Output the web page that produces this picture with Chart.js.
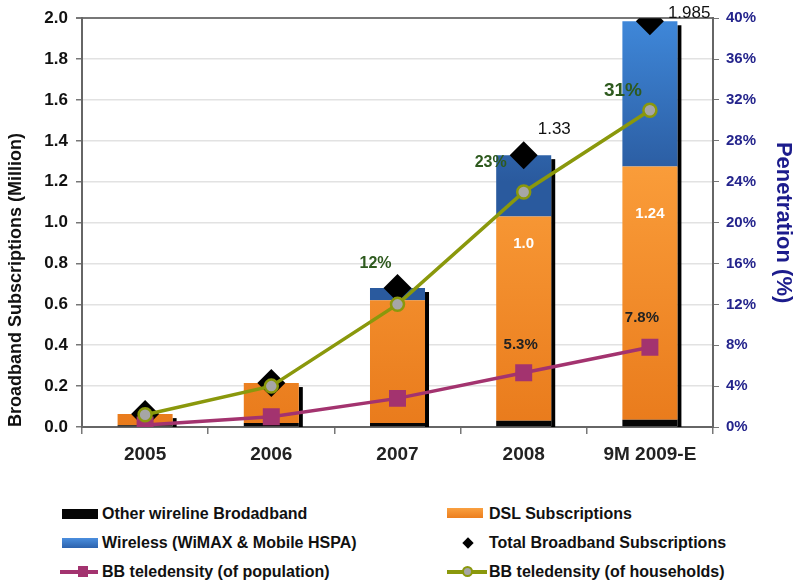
<!DOCTYPE html>
<html>
<head>
<meta charset="utf-8">
<script src="https://cdn.jsdelivr.net/npm/chart.js@4.4.1/dist/chart.umd.min.js"></script>
<style>
  html, body { margin: 0; padding: 0; background: #fff; }
  #wrap { position: relative; width: 799px; height: 582px; overflow: hidden; font-family: "Liberation Sans", Arial, sans-serif; }
  #chart { position: absolute; left: 0; top: 0; }
  .lg { position: absolute; font-weight: bold; font-size: 16px; color: #111; line-height: 18px; white-space: nowrap; }
  .sw { position: absolute; }
</style>
</head>
<body>
<div id="wrap">
  <canvas id="chart" width="799" height="480"></canvas>

  <div class="sw" style="left:62px;top:509px;width:36px;height:10px;background:#050505"></div>
  <div class="lg" style="left:102px;top:505px">Other wireline Brodadband</div>

  <div class="sw" style="left:62px;top:538px;width:36px;height:10px;background:linear-gradient(#4a8ede,#2c62ad)"></div>
  <div class="lg" style="left:102px;top:534px">Wireless (WiMAX &amp; Mobile HSPA)</div>

  <div class="sw" style="left:60px;top:570px;width:38px;height:3.5px;background:#a3336f"></div>
  <div class="sw" style="left:78px;top:566px;width:10px;height:11px;background:#a3336f"></div>
  <div class="lg" style="left:102px;top:563px">BB teledensity (of population)</div>

  <div class="sw" style="left:447px;top:508px;width:36px;height:10px;background:linear-gradient(#f9a040,#ec7e1e)"></div>
  <div class="lg" style="left:489px;top:505px">DSL Subscriptions</div>

  <div class="sw" style="left:464px;top:539px;width:8px;height:8px;background:#000;transform:rotate(45deg)"></div>
  <div class="lg" style="left:489px;top:534px">Total Broadband Subscriptions</div>

  <div class="sw" style="left:447px;top:570px;width:40px;height:3.5px;background:#8a980c"></div>
  <div class="sw" style="left:462px;top:566px;width:7px;height:7px;border-radius:50%;background:#a6a6a6;border:2px solid #8a980c"></div>
  <div class="lg" style="left:489px;top:563px">BB teledensity (of households)</div>
</div>

<script>
// Broadband subscriptions (million) by year
const categories = ['2005', '2006', '2007', '2008', '9M 2009-E'];
const otherWireline = [0.008, 0.02, 0.02, 0.03, 0.035];
const dslSubs = [0.055, 0.195, 0.60, 1.0, 1.24];
const wirelessSubs = [0, 0, 0.06, 0.30, 0.71];
const totalSubs = [0.063, 0.215, 0.68, 1.33, 1.985];

// Broadband teledensity (%)
const popDensity = [0.2, 1.0, 2.8, 5.3, 7.8];
const hhDensity = [1.2, 4.0, 12, 23, 31];

// Axis tick labels
const leftTicks = ['0.0', '0.2', '0.4', '0.6', '0.8', '1.0', '1.2', '1.4', '1.6', '1.8', '2.0'];
const rightTicks = ['0%', '4%', '8%', '12%', '16%', '20%', '24%', '28%', '32%', '36%', '40%'];

// Value labels shown beside marks
const totalLabels = [null, null, null, '1.33', '1.985'];
const dslLabels = [null, null, null, '1.0', '1.24'];
const hhLabels = [null, null, '12%', '23%', '31%'];
const popLabels = [null, null, null, '5.3%', '7.8%'];

const FONT = '"Liberation Sans", Arial, sans-serif';

// label styling: dataset index -> how to place its texts
const labelStyles = [
  { ds: 1, texts: dslLabels, font: 'bold 15px ' + FONT, color: '#ffffff', align: 'center',
    anchor: 'top', offsets: [null, null, null, [0, 27], [0, 47]] },
  { ds: 3, texts: totalLabels, font: '17px ' + FONT, color: '#111111', align: 'left',
    anchor: 'point', offsets: [null, null, null, [14, -26], [18, -8]] },
  { ds: 4, texts: hhLabels, font: 'bold 16px ' + FONT, color: '#2e5a1e', align: 'center',
    anchor: 'point', offsets: [null, null, [-22, -41], [-33, -29], [-27, -19]], big: [null, null, null, null, 'bold 19px ' + FONT] },
  { ds: 5, texts: popLabels, font: 'bold 15px ' + FONT, color: '#222222', align: 'center',
    anchor: 'point', offsets: [null, null, null, [-3, -28], [-8, -29]] }
];

// dark drop edge on the right side of each stacked column
const columnShadow = {
  id: 'columnShadow',
  beforeDatasetsDraw(chart) {
    const ctx = chart.ctx;
    const y = chart.scales.y;
    const base = y.getPixelForValue(0);
    ctx.save();
    ctx.fillStyle = '#000';
    categories.forEach((c, i) => {
      let top = Infinity, right = null;
      [0, 1, 2].forEach(d => {
        const el = chart.getDatasetMeta(d).data[i];
        if (!el) return;
        if (chart.data.datasets[d].data[i] > 0) top = Math.min(top, el.y);
        right = el.x + el.width / 2;
      });
      if (top < Infinity && right !== null) {
        ctx.fillRect(right, top + 4, 4, base - top - 4);
      }
    });
    ctx.restore();
  }
};

// draws the value texts next to their marks
const valueLabels = {
  id: 'valueLabels',
  afterDatasetsDraw(chart) {
    const ctx = chart.ctx;
    ctx.save();
    ctx.textBaseline = 'middle';
    labelStyles.forEach(st => {
      const meta = chart.getDatasetMeta(st.ds);
      st.texts.forEach((t, i) => {
        if (!t) return;
        const el = meta.data[i];
        const off = st.offsets[i] || [0, 0];
        const ay = st.anchor === 'top' ? Math.min(el.y, el.base) : el.y;
        ctx.font = (st.big && st.big[i]) || st.font;
        ctx.fillStyle = st.color;
        ctx.textAlign = st.align;
        ctx.fillText(t, el.x + off[0], ay + off[1]);
      });
    });
    ctx.restore();
  }
};

function vGrad(chart, v0, c0, v1, c1) {
  const ca = chart.chartArea;
  if (!ca) return c0;
  const y = chart.scales.y;
  const g = chart.ctx.createLinearGradient(0, y.getPixelForValue(v0), 0, y.getPixelForValue(v1));
  g.addColorStop(0, c0);
  g.addColorStop(1, c1);
  return g;
}

const barCommon = { type: 'bar', yAxisID: 'y', stack: 'subs', order: 4, borderWidth: 0,
  categoryPercentage: 1, barPercentage: 0.436 };

new Chart(document.getElementById('chart'), {
  data: {
    labels: categories,
    datasets: [
      Object.assign({ label: 'Other wireline Brodadband', data: otherWireline, backgroundColor: '#050505' }, barCommon),
      Object.assign({ label: 'DSL Subscriptions', data: dslSubs,
        backgroundColor: c => vGrad(c.chart, 1.3, '#fa9d3a', 0, '#e97b1c') }, barCommon),
      Object.assign({ label: 'Wireless (WiMAX & Mobile HSPA)', data: wirelessSubs,
        backgroundColor: c => vGrad(c.chart, 2.0, '#3f88da', 1.2, '#2a5a9e') }, barCommon),
      { type: 'line', label: 'Total Broadband Subscriptions', data: totalSubs, yAxisID: 'y', stack: 'total',
        showLine: false, pointStyle: 'rectRot', pointRadius: 14, pointHoverRadius: 14,
        backgroundColor: '#000', borderColor: '#000', pointBorderWidth: 0, order: 3 },
      { type: 'line', label: 'BB teledensity (of households)', data: hhDensity, yAxisID: 'y1',
        borderColor: '#8a980c', borderWidth: 3.5, tension: 0, pointStyle: 'circle', pointRadius: 6.5,
        pointBackgroundColor: '#a6a6a6', pointBorderColor: '#8a980c', pointBorderWidth: 2.5, order: 1 },
      { type: 'line', label: 'BB teledensity (of population)', data: popDensity, yAxisID: 'y1',
        borderColor: '#a3336f', borderWidth: 3.5, tension: 0, pointStyle: 'rect', pointRadius: 12,
        pointBackgroundColor: '#a3336f', pointBorderColor: '#a3336f', pointBorderWidth: 0, order: 2 }
    ]
  },
  options: {
    responsive: false,
    animation: false,
    layout: { padding: { top: 17, left: 0, right: 0, bottom: 0 } },
    plugins: { legend: { display: false }, tooltip: { enabled: false } },
    scales: {
      x: {
        stacked: true,
        grid: { drawOnChartArea: false, tickLength: 7, tickColor: '#777', lineWidth: 1.5 },
        border: { color: '#666', width: 2 },
        ticks: { font: { family: FONT, size: 19, weight: 'bold' }, color: '#222', padding: 9 },
        afterFit(s) { s.height = 53; }
      },
      y: {
        stacked: true, position: 'left', min: 0, max: 2,
        ticks: { stepSize: 0.2, callback: (v, i) => leftTicks[i], font: { family: FONT, size: 17, weight: 'bold' },
          color: '#111', padding: 8 },
        grid: {
          color: c => (c.tick && Math.abs(c.tick.value - 2) < 1e-6) ? '#777' : '#e2e2e2',
          lineWidth: c => (c.tick && Math.abs(c.tick.value - 2) < 1e-6) ? 2 : 1.5,
          tickColor: '#777', tickLength: 6
        },
        border: { color: '#666', width: 2 },
        title: { display: true, text: 'Broadband Subscriptions (Million)', align: 'start',
          font: { family: FONT, size: 18, weight: 'bold' }, color: '#111', padding: { top: 5, bottom: 0 } },
        afterFit(s) { s.width = 82; }
      },
      y1: {
        position: 'right', min: 0, max: 40,
        ticks: { stepSize: 4, callback: (v, i) => rightTicks[i], font: { family: FONT, size: 15, weight: 'bold' },
          color: '#24248c', padding: 7 },
        grid: { drawOnChartArea: false, tickColor: '#777', tickLength: 6 },
        border: { color: '#666', width: 2 },
        title: { display: true, text: 'Penetration (%)', font: { family: FONT, size: 22, weight: 'bold' },
          color: '#1c1c8c', padding: { top: 3, bottom: 0 } },
        afterFit(s) { s.width = 86; }
      }
    }
  },
  plugins: [columnShadow, valueLabels]
});
</script>
</body>
</html>
